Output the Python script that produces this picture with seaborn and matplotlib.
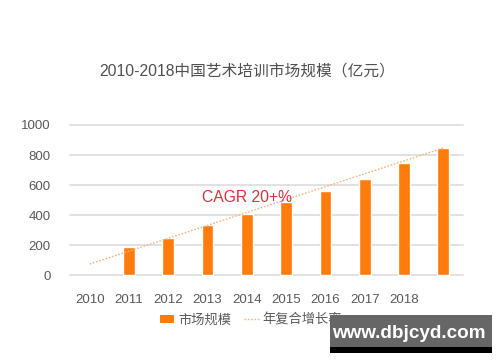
import matplotlib
matplotlib.use("Agg")
import matplotlib.pyplot as plt
from matplotlib.patches import Patch, Rectangle
from matplotlib.lines import Line2D
import seaborn as sns
import pandas as pd
import numpy as np

# ---- data ----
slots = ["0", "1", "2", "3", "4", "5", "6", "7", "8", "9"]
market_size = [np.nan, 187, 247, 333, 407, 487, 560, 640, 747, 847]
tick_labels = ["2010", "2011", "2012", "2013", "2014", "2015", "2016", "2017", "2018", ""]
trend_x = [0, 9]
trend_y = [73, 847]
yticks = [0, 200, 400, 600, 800, 1000]
title = "2010-2018中国艺术培训市场规模（亿元）"
legend_labels = ["市场规模", "年复合增长率"]
annotation = "CAGR 20+%"
watermark = "www.dbjcyd.com"

sns.set_theme(style="white")
plt.rcParams['font.family'] = ['Liberation Sans', 'Noto Sans CJK SC', 'DejaVu Sans']

BAR = "#ff7b0c"
LINE = "#f9b47e"
GRAY = "#595959"

fig = plt.figure(figsize=(5, 3.62), dpi=100)
ax = fig.add_axes([70/500, 1-275.75/362, 393/500, 151.5/362])

df = pd.DataFrame({"slot": slots, "value": market_size})
sns.barplot(data=df, x="slot", y="value", order=slots, color=BAR, saturation=1,
            width=0.3, ax=ax, zorder=3)
sns.lineplot(x=trend_x, y=trend_y, ax=ax, color=LINE, linewidth=1.0,
             linestyle=(0, (1.2, 1.2)), zorder=4)

ax.set_xlim(-0.5, 9.5)
ax.set_ylim(-5, 1005)
ax.set_yticks(yticks)
ax.set_yticklabels([str(v) for v in yticks], color=GRAY, fontsize=9.5)
ax.set_xticks(range(len(slots)))
ax.set_xticklabels(tick_labels, color=GRAY, fontsize=9.5)
ax.tick_params(axis="both", length=0)
ax.tick_params(axis="y", pad=14)
ax.tick_params(axis="x", pad=13)
ax.set_xlabel("")
ax.set_ylabel("")
for s in ax.spines.values():
    s.set_visible(False)
ax.yaxis.grid(True, color="#dcdcdc", linewidth=1.2, zorder=0)
ax.set_axisbelow(True)
for gl in ax.get_ygridlines():
    gl.set_clip_on(False)

ax.text(4.0, 520, annotation, color="#d9323c", fontsize=11.3,
        ha="center", va="center", zorder=5)

fig.text(247/500, 1-71/362, title, color="#505050", fontsize=11.3,
         ha="center", va="center",
         family=['Liberation Sans', 'Noto Sans CJK SC'])

handles = [Patch(facecolor=BAR, edgecolor="none"),
           Line2D([0], [0], color=LINE, linewidth=1.0, linestyle=(0, (1.2, 1.2)))]
fig.legend(handles, legend_labels, loc="center", bbox_to_anchor=(251/500, 1-320/362),
           ncol=2, frameon=False, fontsize=9.5, handlelength=1.1, handleheight=0.6,
           handletextpad=0.3, columnspacing=1.0, labelcolor=GRAY,
           prop={'family': ['Noto Sans CJK SC'], 'size': 9.5})

# watermark
fig.patches.append(Rectangle((330/500, 1-347/362), 162/500, 32/362,
                             transform=fig.transFigure, facecolor="#666666",
                             edgecolor="none", zorder=10))
fig.patches.append(Rectangle((330/500, 1-353/362), 162/500, 6/362,
                             transform=fig.transFigure, facecolor="#000000",
                             edgecolor="none", zorder=10))
fig.text(409/500, 1-334/362, watermark, color="white", fontsize=13.6,
         fontweight="bold", ha="center", va="center", zorder=11,
         family=['Liberation Sans'])

fig.savefig("out.png", dpi=100, facecolor="white")
